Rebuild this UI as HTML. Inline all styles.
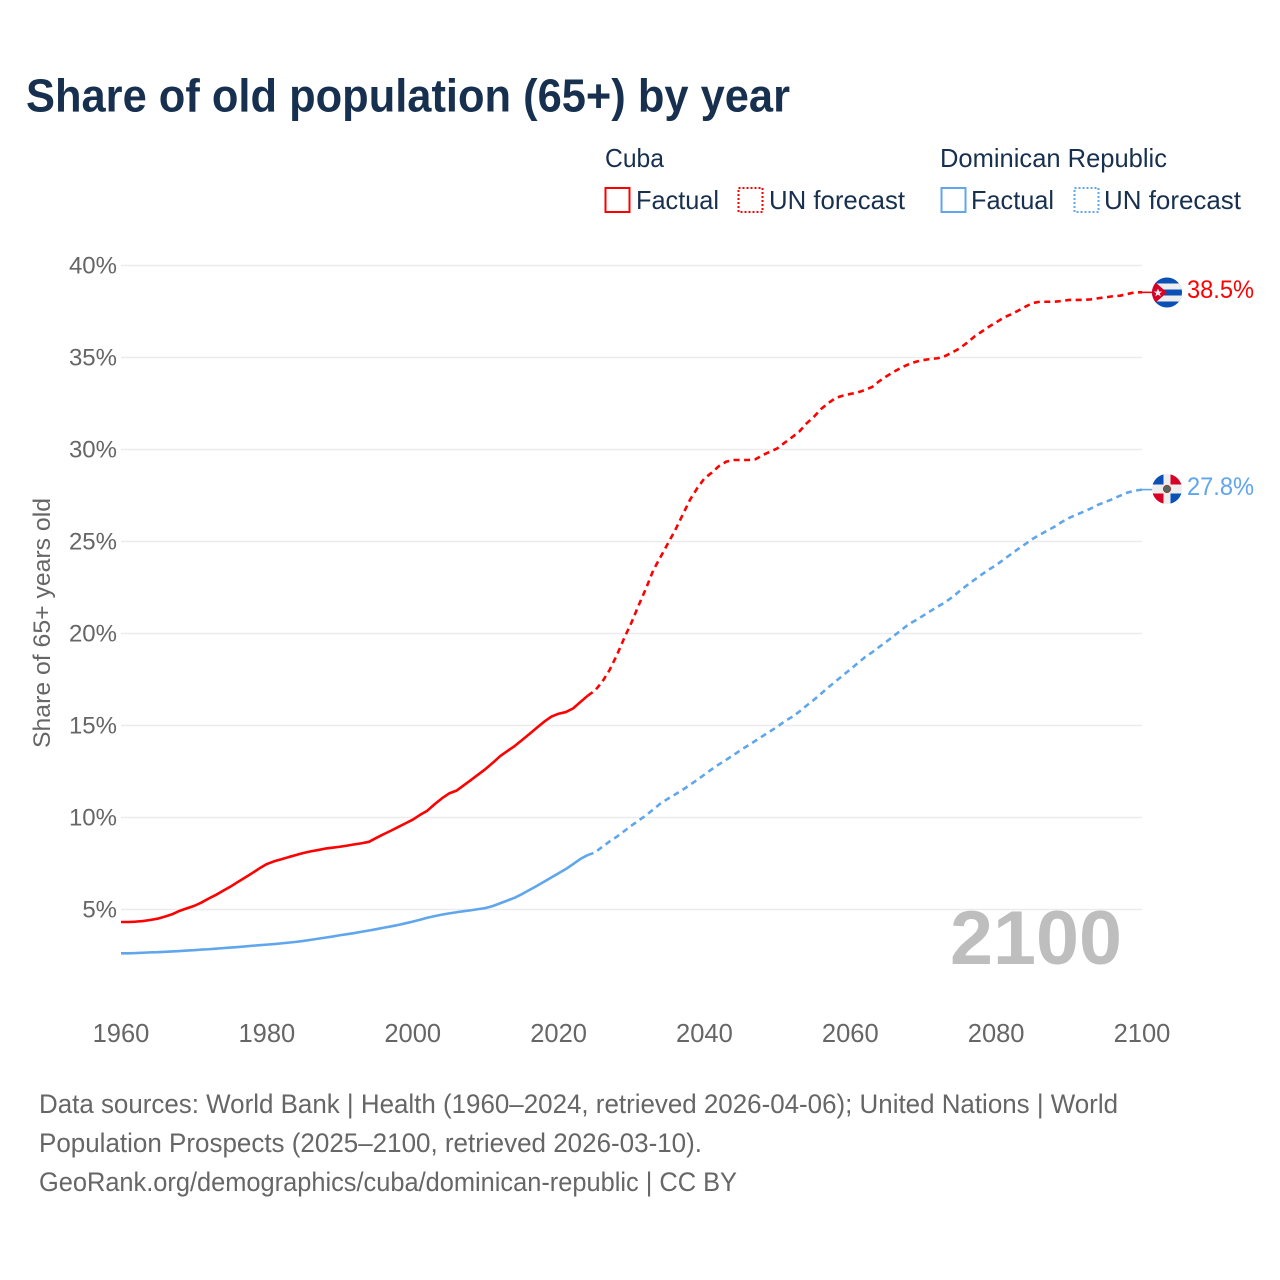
<!DOCTYPE html>
<html lang="en">
<head>
<meta charset="utf-8">
<title>Share of old population (65+) by year</title>
<style>
  html, body { margin: 0; padding: 0; background: #fff; }
  svg { display: block; font-family: "Liberation Sans", sans-serif; }
</style>
</head>
<body>
<svg id="chart" xmlns="http://www.w3.org/2000/svg" width="1280" height="1280" viewBox="0 0 1280 1280">
  <rect width="1280" height="1280" fill="#fff"/>
  <text x="26" y="111.5" font-size="46" font-weight="700" fill="#18304f" textLength="764" lengthAdjust="spacingAndGlyphs">Share of old population (65+) by year</text>

  <g font-size="26" fill="#18304f">
    <text x="605" y="167" textLength="59" lengthAdjust="spacingAndGlyphs">Cuba</text>
    <text x="940" y="167" textLength="227" lengthAdjust="spacingAndGlyphs">Dominican Republic</text>
    <rect x="605.5" y="188" width="24" height="24" fill="none" stroke="#ff0000" stroke-width="2"/>
    <text x="636" y="209" textLength="83" lengthAdjust="spacingAndGlyphs">Factual</text>
    <rect x="738.5" y="188" width="24" height="24" fill="none" stroke="#ff0000" stroke-width="2" stroke-dasharray="2 2"/>
    <text x="769" y="209" textLength="136" lengthAdjust="spacingAndGlyphs">UN forecast</text>
    <rect x="941.5" y="188" width="24" height="24" fill="none" stroke="#5fa6ec" stroke-width="2"/>
    <text x="971" y="209" textLength="83" lengthAdjust="spacingAndGlyphs">Factual</text>
    <rect x="1074.5" y="188" width="24" height="24" fill="none" stroke="#5fa6ec" stroke-width="2" stroke-dasharray="2 2"/>
    <text x="1104" y="209" textLength="137" lengthAdjust="spacingAndGlyphs">UN forecast</text>
  </g>

  <g id="grid"></g>
  <g id="yticks"></g>
  <g id="xticks"></g>
  <text transform="translate(50,623) rotate(-90)" text-anchor="middle" font-size="24" fill="#666" textLength="250" lengthAdjust="spacingAndGlyphs">Share of 65+ years old</text>

  <text x="1122" y="964" text-anchor="end" font-size="76" font-weight="700" fill="#bebebe" textLength="172" lengthAdjust="spacingAndGlyphs">2100</text>

  <g id="series"></g>

  <defs>
    <clipPath id="flag-clip-cu"><circle cx="1167" cy="292.5" r="15"/></clipPath>
    <clipPath id="flag-clip-do"><circle cx="1167" cy="489" r="15"/></clipPath>
  </defs>
  <g clip-path="url(#flag-clip-cu)">
    <rect x="1152" y="277.5" width="30" height="30" fill="#0a50b5"/>
    <rect x="1152" y="283.5" width="30" height="6" fill="#eeeeee"/>
    <rect x="1152" y="295.5" width="30" height="6" fill="#eeeeee"/>
    <polygon points="1150,277.5 1167,292.5 1150,307.5" fill="#d80027"/>
    <polygon points="1158,288.5 1159.2,291.5 1162.2,291.5 1159.8,293.4 1160.7,296.4 1158,294.6 1155.3,296.4 1156.2,293.4 1153.8,291.5 1156.8,291.5" fill="#eeeeee"/>
  </g>
  <g clip-path="url(#flag-clip-do)">
    <rect x="1152" y="474" width="30" height="30" fill="#eeeeee"/>
    <rect x="1152" y="474" width="11.5" height="10.5" fill="#0a50b5"/>
    <rect x="1170.5" y="474" width="11.5" height="10.5" fill="#d80027"/>
    <rect x="1152" y="493.5" width="11.5" height="10.5" fill="#d80027"/>
    <rect x="1170.5" y="493.5" width="11.5" height="10.5" fill="#0a50b5"/>
    <circle cx="1167" cy="489" r="3.6" fill="#4d6a5f" stroke="#a33a3a" stroke-width="1"/>
  </g>

  <g font-size="27" fill="#666">
    <text x="39" y="1113" textLength="1079" lengthAdjust="spacingAndGlyphs">Data sources: World Bank | Health (1960–2024, retrieved 2026-04-06); United Nations | World</text>
    <text x="39" y="1152" textLength="663" lengthAdjust="spacingAndGlyphs">Population Prospects (2025–2100, retrieved 2026-03-10).</text>
    <text x="39" y="1191" textLength="698" lengthAdjust="spacingAndGlyphs">GeoRank.org/demographics/cuba/dominican-republic | CC BY</text>
  </g>
</svg>

<script>
const firstYear = 1960;
const lastFactualYear = 2024;
const yTickValues = [5, 10, 15, 20, 25, 30, 35, 40];
const xTickYears = [1960, 1980, 2000, 2020, 2040, 2060, 2080, 2100];
const cubaValues = [
  4.32,4.32,4.34,4.37,4.43,4.5,4.61,4.74,4.92,5.06,
  5.19,5.37,5.59,5.79,6.02,6.24,6.49,6.73,6.98,7.24,
  7.47,7.62,7.73,7.85,7.96,8.07,8.16,8.23,8.31,8.36,
  8.41,8.47,8.54,8.6,8.68,8.89,9.09,9.28,9.48,9.68,
  9.88,10.14,10.37,10.72,11.04,11.31,11.46,11.75,12.04,12.34,
  12.64,12.98,13.34,13.62,13.89,14.21,14.54,14.87,15.2,15.48,
  15.64,15.73,15.93,16.28,16.62,16.9,17.38,18.02,18.83,19.75,
  20.6,21.55,22.46,23.45,24.17,24.9,25.62,26.44,27.25,27.89,
  28.43,28.74,29.1,29.34,29.43,29.43,29.43,29.47,29.7,29.88,
  30.06,30.37,30.66,30.97,31.42,31.77,32.2,32.53,32.8,32.93,
  33.02,33.1,33.23,33.4,33.72,33.99,34.23,34.45,34.63,34.77,
  34.86,34.92,34.96,35.08,35.28,35.5,35.8,36.13,36.4,36.67,
  36.91,37.16,37.34,37.54,37.76,37.96,38.03,38.03,38.03,38.07,
  38.13,38.13,38.13,38.16,38.22,38.27,38.33,38.36,38.45,38.54,
  38.54
];
const dominicanValues = [
  2.62,2.62,2.63,2.65,2.67,2.68,2.7,2.72,2.74,2.77,
  2.79,2.82,2.84,2.87,2.9,2.93,2.96,2.99,3.03,3.06,
  3.09,3.12,3.16,3.2,3.24,3.29,3.35,3.41,3.47,3.53,
  3.6,3.66,3.72,3.79,3.86,3.93,4.01,4.08,4.16,4.25,
  4.34,4.44,4.55,4.64,4.72,4.79,4.85,4.91,4.96,5.02,
  5.08,5.19,5.34,5.49,5.64,5.84,6.06,6.28,6.51,6.74,
  6.97,7.2,7.47,7.75,7.96,8.1,8.41,8.7,8.96,9.26,
  9.56,9.84,10.12,10.44,10.77,11.02,11.26,11.5,11.77,12.04,
  12.33,12.62,12.89,13.14,13.4,13.67,13.92,14.17,14.43,14.68,
  14.93,15.23,15.46,15.75,16.08,16.39,16.73,17.08,17.4,17.73,
  18.05,18.38,18.71,18.98,19.28,19.57,19.88,20.19,20.5,20.73,
  20.97,21.22,21.46,21.7,21.98,22.31,22.62,22.91,23.2,23.47,
  23.72,24.01,24.3,24.59,24.86,25.14,25.37,25.59,25.8,26.06,
  26.28,26.46,26.62,26.8,27,27.15,27.31,27.49,27.66,27.76,
  27.82
];

const NS = 'http://www.w3.org/2000/svg';
function xScale(year) { return 121 + (year - 1960) * (1142 - 121) / 140; }
function yScale(v) { return 265.5 + (40 - v) * (909.5 - 265.5) / 35; }
function make(tag, attrs, parent) {
  const el = document.createElementNS(NS, tag);
  for (const k in attrs) el.setAttribute(k, attrs[k]);
  parent.appendChild(el);
  return el;
}
const gridG = document.getElementById('grid');
const yG = document.getElementById('yticks');
const xG = document.getElementById('xticks');
const seriesG = document.getElementById('series');

yTickValues.forEach(function (v) {
  const line = make('line', {x1: 121, x2: 1142, y1: yScale(v), y2: yScale(v), stroke: '#ececec', 'stroke-width': 1.4}, gridG);
  
  
  const t = make('text', {x: 117, y: yScale(v) + 8, 'text-anchor': 'end', 'font-size': 24, fill: '#666'}, yG);
  
  
  t.textContent = v + '%';
});

xTickYears.forEach(function (yr) {
  const t = make('text', {x: xScale(yr), y: 1042, 'text-anchor': 'middle', 'font-size': 25.5, fill: '#666'}, xG);
  
  
  t.textContent = yr;
});

function pathFor(values, fromYear, toYear) {
  const pts = [];
  for (let yr = fromYear; yr <= toYear; yr++) {
    pts.push(xScale(yr).toFixed(2) + ',' + yScale(values[yr - firstYear]).toFixed(2));
  }
  return 'M' + pts.join('L');
}

function drawSeries(values, color, slug) {
  const lastYear = firstYear + values.length - 1;
  const solid = make('path', {d: pathFor(values, firstYear, lastFactualYear), fill: 'none', stroke: color, 'stroke-width': 2.6, 'stroke-linejoin': 'round'}, seriesG);
  
  
  const dashed = make('path', {d: pathFor(values, lastFactualYear, lastYear), fill: 'none', stroke: color, 'stroke-width': 2.6, 'stroke-dasharray': '6 4.5', 'stroke-linejoin': 'round'}, seriesG);
  
  
  const endY = yScale(values[values.length - 1]);
  const conn = make('line', {x1: xScale(lastYear), x2: 1153, y1: endY, y2: endY, stroke: color, 'stroke-width': 1.6}, seriesG);
  
  
  const label = make('text', {x: 1187, y: endY + 5.5, 'font-size': 25, fill: color, textLength: 67, lengthAdjust: 'spacingAndGlyphs'}, seriesG);
  
  
  label.textContent = values[values.length - 1].toFixed(1) + '%';
}
drawSeries(cubaValues, '#ff0000', 'cuba');
drawSeries(dominicanValues, '#5fa6ec', 'dominican-republic');
</script>
</body>
</html>
